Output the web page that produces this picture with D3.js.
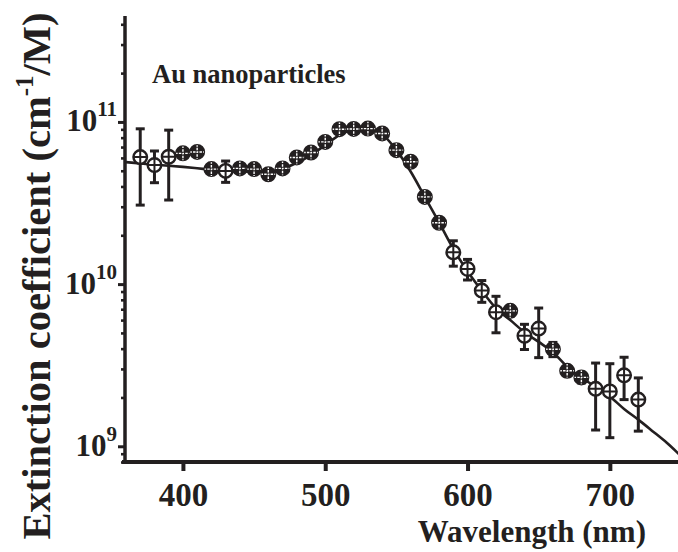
<!DOCTYPE html>
<html>
<head>
<meta charset="utf-8">
<script src="https://cdn.jsdelivr.net/npm/d3@7"></script>
<style>
    body { margin: 0; background: #fff; }
    svg text { font-family: "Liberation Serif", "Times New Roman", serif; font-weight: bold; fill: #231f20; }
</style>
</head>
<body>
<div id="chart"></div>
<script>
// measured points (nm, cm^-1/M) with their error
var wavelength = [370, 380, 390, 400, 410, 420, 430, 440, 450, 460, 470, 480,
                  490, 500, 510, 520, 530, 540, 550, 560, 570, 580, 590, 600,
                  610, 620, 630, 640, 650, 660, 670, 680, 690, 700, 710, 720];
var extinction = [6.07e10, 5.42e10, 6.10e10, 6.40e10, 6.53e10, 5.12e10, 4.99e10, 5.17e10,
                  5.12e10, 4.76e10, 5.17e10, 6.04e10, 6.48e10, 7.53e10, 9.02e10, 9.05e10,
                  9.10e10, 8.49e10, 6.70e10, 5.68e10, 3.45e10, 2.39e10, 1.57e10, 1.24e10,
                  9.12e9, 6.71e9, 6.84e9, 4.80e9, 5.32e9, 3.97e9, 2.92e9, 2.66e9,
                  2.26e9, 2.18e9, 2.74e9, 1.94e9];
var errorBar = [3.0e10, 1.2e10, 2.8e10, 0.3e10, 0.3e10, 0.3e10, 0.75e10, 0.3e10,
                0.3e10, 0.3e10, 0.3e10, 0.3e10, 0.3e10, 0.3e10, 0.3e10, 0.3e10,
                0.3e10, 0.3e10, 0.3e10, 0.3e10, 0.2e10, 0.15e10, 0.28e10, 0.18e10,
                1.4e9, 1.7e9, 0.5e9, 0.85e9, 1.8e9, 0.4e9, 0.2e9, 0.2e9,
                1.0e9, 1.05e9, 0.8e9, 0.7e9];

// fitted curve
var fitWavelength = [360, 370, 380, 390, 400, 410, 420, 430, 440, 450, 460, 470, 480,
                     490, 500, 510, 520, 530, 540, 550, 560, 570, 580, 590, 600, 610,
                     620, 630, 640, 650, 660, 670, 680, 690, 700, 710, 720, 730, 740, 750];
var fitExtinction = [5.65e10, 5.55e10, 5.45e10, 5.37e10, 5.28e10, 5.18e10, 5.08e10, 5.0e10,
                     4.96e10, 4.93e10, 4.95e10, 5.15e10, 5.6e10, 6.25e10, 7.2e10, 8.3e10,
                     8.95e10, 9.0e10, 8.4e10, 6.7e10, 4.95e10, 3.45e10, 2.4e10, 1.65e10,
                     1.2e10, 9.1e9, 7.1e9, 6.0e9, 5.05e9, 4.4e9, 3.8e9, 3.1e9,
                     2.65e9, 2.33e9, 2.03e9, 1.7e9, 1.46e9, 1.24e9, 1.05e9, 8.7e8];

var xTicks = [400, 500, 600, 700];
var yMajorTicks = [1e9, 1e10, 1e11];
var yExponents = ["9", "10", "11"];

var ink = "#231f20";
var W = 678, H = 552;
var r = 6.8;

var x = d3.scaleLinear().domain([360, 750]).range([126, 681]);
var y = d3.scaleLog().domain([8e8, 4.5e11]).range([462, 16]);

var svg = d3.select("#chart").append("svg")
    .attr("width", W)
    .attr("height", H);

// minor y ticks (2..9 of every decade)
var minor = y.ticks().filter(function(t) { return yMajorTicks.indexOf(t) < 0; });
var yMinor = svg.append("g")
    .attr("transform", "translate(125,0)")
    .call(d3.axisLeft(y).tickValues(minor).tickSize(4).tickFormat(""));
yMinor.select(".domain").remove();
yMinor.selectAll("line").attr("stroke", ink).attr("stroke-width", 2.6);

var yMajor = svg.append("g")
    .attr("transform", "translate(125,0)")
    .call(d3.axisLeft(y).tickValues(yMajorTicks).tickSize(7).tickPadding(8).tickFormat(""));
yMajor.select(".domain").remove();
yMajor.selectAll("line").attr("stroke", ink).attr("stroke-width", 3);
yMajor.selectAll(".tick text").remove();
yMajor.selectAll(".tick").each(function(d, i) {
    var t = d3.select(this).append("text")
        .attr("x", -8)
        .attr("y", 9)
        .attr("text-anchor", "end")
        .attr("font-size", 31);
    t.append("tspan").text("10");
    t.append("tspan")
        .attr("font-size", 21)
        .attr("dy", -15)
        .text(yExponents[i]);
});

// x axis
var xAxis = svg.append("g")
    .attr("transform", "translate(0,462)")
    .call(d3.axisBottom(x).tickValues(xTicks).tickSize(9).tickPadding(12).tickSizeOuter(0));
xAxis.select(".domain").remove();
xAxis.selectAll("line").attr("stroke", ink).attr("stroke-width", 4);
xAxis.selectAll("text")
    .attr("font-size", 33)
    .attr("dy", "0.72em")
    .attr("y", 20)
    .style("fill", ink);

// axis lines
svg.append("line")
    .attr("x1", 125).attr("x2", 125)
    .attr("y1", 16).attr("y2", 464)
    .attr("stroke", ink).attr("stroke-width", 3.5);
svg.append("line")
    .attr("x1", 122).attr("x2", W)
    .attr("y1", 462).attr("y2", 462)
    .attr("stroke", ink).attr("stroke-width", 4);

// fit line
var fit = fitWavelength.map(function(w, i) { return { w: w, v: fitExtinction[i] }; });
var line = d3.line()
    .x(function(d) { return x(d.w); })
    .y(function(d) { return y(d.v); })
    .curve(d3.curveMonotoneX);
svg.append("path")
    .attr("d", line(fit))
    .attr("fill", "none")
    .attr("stroke", ink)
    .attr("stroke-width", 2.6);

// points
var pts = wavelength.map(function(w, i) {
    return { w: w, v: extinction[i], e: errorBar[i] };
});

var bars = svg.append("g").selectAll("g").data(pts).enter().append("g");
bars.append("line")
    .attr("x1", function(d) { return x(d.w); })
    .attr("x2", function(d) { return x(d.w); })
    .attr("y1", function(d) { return y(d.v + d.e); })
    .attr("y2", function(d) { return y(d.v - d.e); })
    .attr("stroke", ink).attr("stroke-width", 3);
[1, -1].forEach(function(s) {
    bars.append("line")
        .attr("x1", function(d) { return x(d.w) - 4.5; })
        .attr("x2", function(d) { return x(d.w) + 4.5; })
        .attr("y1", function(d) { return y(d.v + s * d.e); })
        .attr("y2", function(d) { return y(d.v + s * d.e); })
        .attr("stroke", ink).attr("stroke-width", 3);
});

// small error bars hide inside the marker and make it look solid
function solid(d) {
    return Math.abs(y(d.v + d.e) - y(d.v)) < r + 1;
}

var marks = svg.append("g").selectAll("g").data(pts).enter().append("g")
    .attr("transform", function(d) { return "translate(" + x(d.w) + "," + y(d.v) + ")"; });
marks.append("circle")
    .attr("r", r)
    .attr("fill", function(d) { return solid(d) ? ink : "#fff"; })
    .attr("stroke", ink)
    .attr("stroke-width", 2.4);
marks.append("path")
    .attr("d", "M" + (-r) + ",0H" + r + "M0," + (-r) + "V" + r)
    .attr("stroke", function(d) { return solid(d) ? "#fff" : ink; })
    .attr("stroke-width", function(d) { return solid(d) ? 1.4 : 2; })
    .attr("stroke-dasharray", function(d) { return solid(d) ? "1.5,1.2,2.5,1.2" : null; })
    .attr("fill", "none");

// labels
svg.append("text")
    .attr("x", 152)
    .attr("y", 83)
    .attr("font-size", 26.5)
    .text("Au nanoparticles");

svg.append("text")
    .attr("x", 646)
    .attr("y", 542)
    .attr("text-anchor", "end")
    .attr("font-size", 31)
    .text("Wavelength (nm)");

var yl = svg.append("text")
    .attr("transform", "translate(50,276) rotate(-90)")
    .attr("text-anchor", "middle")
    .attr("font-size", 40.5);
yl.append("tspan").text("Extinction coefficient (cm");
yl.append("tspan").attr("font-size", 25).attr("dy", -17).text("-1");
yl.append("tspan").attr("dy", 17).text("/M)");
</script>
</body>
</html>
